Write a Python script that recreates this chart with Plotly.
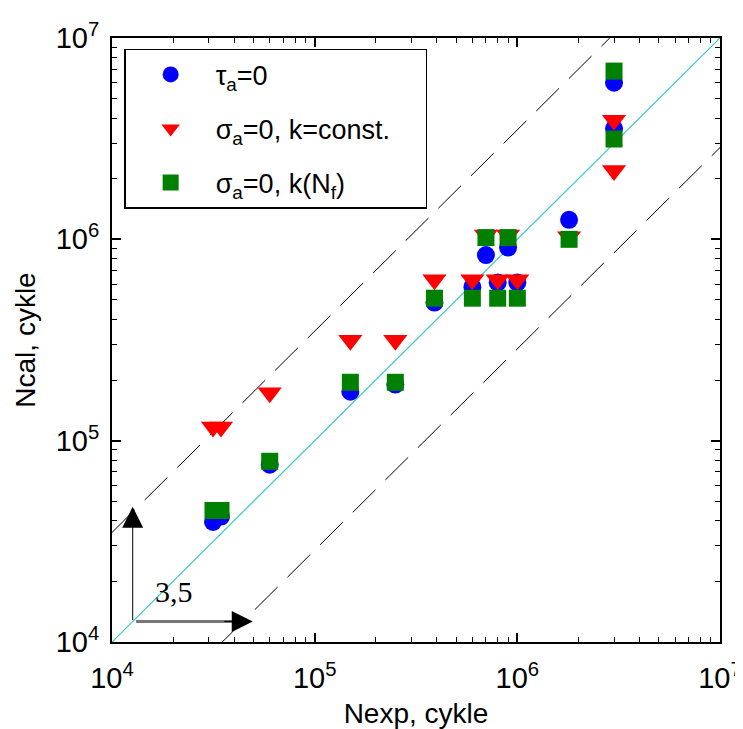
import numpy as np
import plotly.graph_objects as go

# experimental life vs calculated life (cycles)
tau_nexp = [3.15e4, 3.45e4, 6.0e4, 1.5e5, 2.5e5, 3.9e5, 6.0e5, 7.0e5, 8.0e5, 9.0e5, 1.0e6, 1.8e6, 3.0e6, 3.0e6]
tau_ncal = [3.95e4, 4.2e4, 7.6e4, 1.75e5, 1.9e5, 4.85e5, 5.8e5, 8.35e5, 6.1e5, 9.1e5, 6.1e5, 1.25e6, 6.0e6, 3.55e6]

sig_nexp = [3.15e4, 3.45e4, 6.0e4, 1.5e5, 2.5e5, 3.9e5, 6.0e5, 7.0e5, 8.0e5, 9.0e5, 1.0e6, 1.8e6, 3.0e6, 3.0e6]
sig_ncal = [1.17e5, 1.17e5, 1.73e5, 3.15e5, 3.15e5, 6.3e5, 6.3e5, 1.05e6, 6.3e5, 1.05e6, 6.3e5, 1.03e6, 3.9e6, 2.2e6]

kn_nexp = [3.15e4, 3.45e4, 6.0e4, 1.5e5, 2.5e5, 3.9e5, 6.0e5, 7.0e5, 8.0e5, 9.0e5, 1.0e6, 1.8e6, 3.0e6, 3.0e6]
kn_ncal = [4.5e4, 4.5e4, 7.9e4, 1.95e5, 1.95e5, 5.1e5, 5.1e5, 1.02e6, 5.1e5, 1.02e6, 5.1e5, 1.0e6, 6.85e6, 3.15e6]

factor = 3.5
nmin, nmax = 1e4, 1e7
tick_vals = [1e4, 1e5, 1e6, 1e7]
tick_text = ["10<sup>4</sup>", "10<sup>5</sup>", "10<sup>6</sup>", "10<sup>7</sup>"]

# arrow marking the factor
arrow_start = 1.265e4
arrow_up_tip = 4.7e4
arrow_right_tip = 4.95e4

pad = "\u00a0\u00a0\u00a0\u00a0"  # widen the legend box a little

fig = go.Figure()

# scatter band lines
fig.add_trace(go.Scatter(x=[nmin, nmax / factor], y=[nmin * factor, nmax], mode="lines",
                         line=dict(color="black", width=1, dash="32px,14px"), showlegend=False))
fig.add_trace(go.Scatter(x=[nmin * factor, nmax], y=[nmin, nmax / factor], mode="lines",
                         line=dict(color="black", width=1, dash="32px,14px"), showlegend=False))
fig.add_trace(go.Scatter(x=[nmin, nmax], y=[nmin, nmax], mode="lines",
                         line=dict(color="#3cc8c8", width=1.2), showlegend=False))

# horizontal arrow shaft (grey)
fig.add_trace(go.Scatter(x=[arrow_start * 1.04, arrow_right_tip * 0.9], y=[arrow_start, arrow_start],
                         mode="lines", line=dict(color="#777777", width=3), showlegend=False))

fig.add_trace(go.Scatter(x=tau_nexp, y=tau_ncal, mode="markers", name="τ<sub>a</sub>=0" + pad,
                         legendgroup="a",
                         marker=dict(symbol="circle", size=18, color="#0000ff", line=dict(width=0))))
fig.add_trace(go.Scatter(x=sig_nexp, y=sig_ncal, mode="markers", name="σ<sub>a</sub>=0, k=const." + pad,
                         legendgroup="b",
                         marker=dict(symbol="triangle-down", size=21, color="#ff0000", line=dict(width=0))))
fig.add_trace(go.Scatter(x=kn_nexp, y=kn_ncal, mode="markers", name="σ<sub>a</sub>=0, k(N<sub>f</sub>)" + pad,
                         legendgroup="c",
                         marker=dict(symbol="square", size=17, color="#008000", line=dict(width=0))))

x0 = np.log10(arrow_start)
fig.add_annotation(x=x0, y=np.log10(arrow_up_tip), ax=x0, ay=x0, xref="x", yref="y",
                   axref="x", ayref="y", showarrow=True, arrowhead=2, arrowsize=4.2,
                   arrowwidth=1, arrowcolor="black", text="")
fig.add_annotation(x=np.log10(arrow_right_tip), y=x0, ax=-30, ay=0, xref="x", yref="y",
                   showarrow=True, arrowhead=2, arrowsize=4.2,
                   arrowwidth=1, arrowcolor="black", text="")
fig.add_annotation(x=4.305, y=4.25, xref="x", yref="y", text="3,5", showarrow=False,
                   font=dict(family="Liberation Serif", size=30, color="black"))

axis_common = dict(
    type="log", range=[4, 7], tickvals=tick_vals, ticktext=tick_text,
    ticks="inside", ticklen=9, tickwidth=1.5, tickcolor="black",
    minor=dict(ticks="inside", ticklen=5, tickwidth=1, tickcolor="black", dtick="D1", showgrid=False),
    showline=True, linecolor="black", linewidth=2, mirror="ticks",
    showgrid=False, zeroline=False, automargin=False,
    tickfont=dict(family="Liberation Sans", size=29, color="black"),
)

fig.update_xaxes(**axis_common, ticklabelstandoff=9,
                 title=dict(text="Nexp, cykle", standoff=11,
                            font=dict(family="Liberation Sans", size=28, color="black")))
fig.update_yaxes(**axis_common, ticklabelstandoff=5,
                 title=dict(text="Ncal, cykle", standoff=12,
                            font=dict(family="Liberation Sans", size=28, color="black")))

# the page adds an 8 px body margin, so the figure is drawn 8 px smaller
fig.update_layout(
    width=735, height=721,
    margin=dict(l=104, r=23, t=30, b=87),
    plot_bgcolor="white", paper_bgcolor="white",
    legend=dict(x=0.02, y=0.982, xanchor="left", yanchor="top",
                bordercolor="black", borderwidth=1.5, bgcolor="white",
                font=dict(family="Liberation Sans", size=27, color="black"),
                tracegroupgap=16, itemwidth=80),
)

fig.write_html("out.html")
